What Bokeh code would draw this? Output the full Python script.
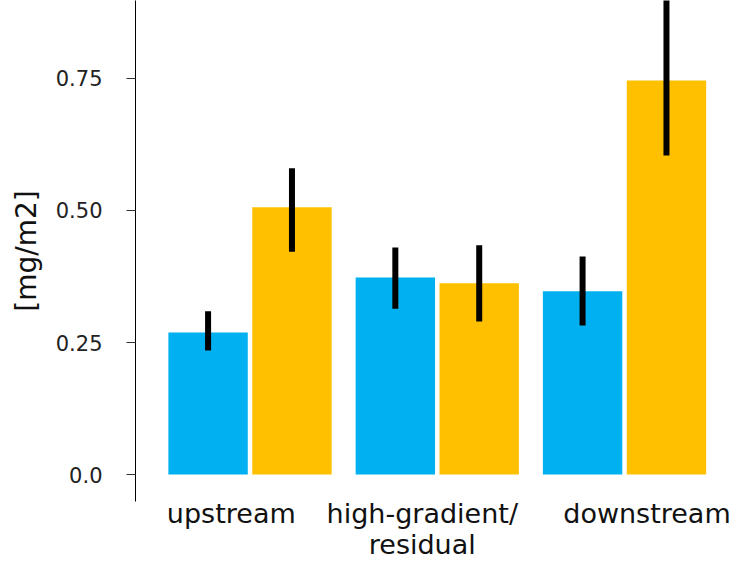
from bokeh.plotting import figure
from bokeh.models import Range1d, FixedTicker
from bokeh.embed import file_html
from bokeh.resources import INLINE

# ---- data ----
categories = ["upstream", "high-gradient/\nresidual", "downstream"]
blue_mean = [0.269, 0.373, 0.347]
blue_low = [0.235, 0.314, 0.282]
blue_high = [0.309, 0.430, 0.413]
yellow_mean = [0.506, 0.362, 0.746]
yellow_low = [0.422, 0.290, 0.604]
yellow_high = [0.580, 0.434, 0.950]
y_ticks = [0.0, 0.25, 0.5, 0.75]
y_tick_labels = ["0.0", "0.25", "0.50", "0.75"]
# category label nudges (label placement relative to the group centre)
label_nudge = [-0.10, -0.08, 0.12]

BLUE = "#00B0F0"
YELLOW = "#FFC000"
FONT = "DejaVu Sans"

group_centers = [i + 0.5 for i in range(len(categories))]
label_pos = [c + n for c, n in zip(group_centers, label_nudge)]
offset = 0.224
bar_w = 0.424
x_blue = [c - offset for c in group_centers]
x_yellow = [c + offset for c in group_centers]

p = figure(
    frame_width=601, frame_height=501,
    x_range=Range1d(-0.1116, 3.098),
    y_range=Range1d(-0.0511, 0.8977),
    output_backend="svg", toolbar_location=None,
    min_border_left=135, min_border_right=0,
    min_border_top=0, min_border_bottom=0,
    background_fill_color="white", border_fill_color="white",
)
p.outline_line_color = None
p.grid.visible = False

p.vbar(x=x_blue, top=blue_mean, bottom=0, width=bar_w,
       fill_color=BLUE, line_color=None)
p.vbar(x=x_yellow, top=yellow_mean, bottom=0, width=bar_w,
       fill_color=YELLOW, line_color=None)
p.segment(x0=x_blue, y0=blue_low, x1=x_blue, y1=blue_high,
          line_color="black", line_width=6)
p.segment(x0=x_yellow, y0=yellow_low, x1=x_yellow, y1=yellow_high,
          line_color="black", line_width=6)

# y axis
ya = p.yaxis[0]
ya.ticker = FixedTicker(ticks=y_ticks)
ya.major_label_overrides = {t: l for t, l in zip(y_ticks, y_tick_labels)}
ya.minor_tick_line_color = None
ya.major_tick_out = 9
ya.major_tick_in = 0
ya.major_tick_line_color = "#333333"
ya.axis_line_color = "black"
ya.axis_line_width = 1
ya.major_label_standoff = 24
ya.major_label_text_font = FONT
ya.major_label_text_font_size = "21px"
ya.major_label_text_color = "#222222"
ya.axis_label = "[mg/m2]"
ya.axis_label_text_font = FONT
ya.axis_label_text_font_size = "28px"
ya.axis_label_text_font_style = "normal"
ya.axis_label_text_color = "#111111"
ya.axis_label_standoff = 10

# x axis
xa = p.xaxis[0]
xa.ticker = FixedTicker(ticks=label_pos)
xa.major_label_overrides = {c: l for c, l in zip(label_pos, categories)}
xa.minor_tick_line_color = None
xa.major_tick_line_color = None
xa.axis_line_color = None
xa.major_label_standoff = -10
xa.major_label_text_font = FONT
xa.major_label_text_font_size = "27px"
xa.major_label_text_color = "#111111"
xa.major_label_text_line_height = 1.0

open("out.html", "w").write(file_html(p, INLINE))
